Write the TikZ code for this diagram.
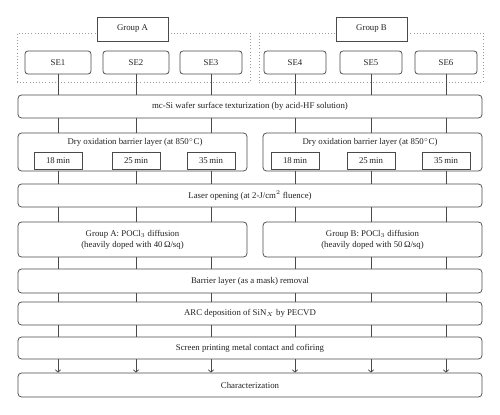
\documentclass[tikz,border=0pt]{standalone}
\usepackage{fontspec}
\setmainfont{Liberation Serif}
\usetikzlibrary{arrows.meta}
\definecolor{linec}{HTML}{4A4A4A}
\definecolor{textc}{HTML}{222222}
\definecolor{dotc}{HTML}{9A9A9A}
\newcommand\fsz{\fontsize{7.5}{9.5}\selectfont}
\begin{document}
\begin{tikzpicture}[x=0.03cm,y=-0.03cm,
  sz/.style 2 args={minimum width=#1*0.03cm, minimum height=#2*0.03cm},
  ln/.style={draw=linec, line width=0.65pt},
  mainbox/.style={ln, rounded corners=3pt, fill=white, text=textc, font=\fsz, inner sep=0pt, align=center},
  sqbox/.style={ln, fill=white, text=textc, font=\fsz, inner sep=0pt},
  txt/.style={text=textc, font=\fsz, inner sep=0pt},
  grpbox/.style={draw=dotc, dotted, line width=0.7pt},
  conn/.style={ln},
  arr/.style={ln, -{Straight Barb[length=2pt,width=4.5pt]}}]
\useasboundingbox (0,0) rectangle (500,414);
% dotted group frames
\node[grpbox, sz={233}{49}] (fA) at (133.5,57.5) {};
\node[grpbox, sz={224}{49}] (fB) at (371,57.5) {};
% group labels
\node[sqbox, sz={71}{24}] (gA) at (132.5,29) {Group A};
\node[sqbox, sz={71}{24}] (gB) at (371.5,29) {Group B};
% SE boxes
\node[mainbox, rounded corners=2.5pt, sz={66}{23}] (se1) at (58,62.5) {SE1};
\node[mainbox, rounded corners=2.5pt, sz={66}{23}] (se2) at (136,62.5) {SE2};
\node[mainbox, rounded corners=2.5pt, sz={62}{23}] (se3) at (211,62.5) {SE3};
\node[mainbox, rounded corners=2.5pt, sz={62}{23}] (se4) at (295,62.5) {SE4};
\node[mainbox, rounded corners=2.5pt, sz={62}{23}] (se5) at (371,62.5) {SE5};
\node[mainbox, rounded corners=2.5pt, sz={62}{23}] (se6) at (446,62.5) {SE6};
% process steps
\node[mainbox, sz={464}{23}] (tex) at (250,106.5) {mc-Si wafer surface texturization (by acid-HF solution)};
\node[mainbox, sz={229}{38}] (dA) at (132.5,152) {};
\node[mainbox, sz={219}{38}] (dB) at (372.5,152) {};
\node[txt] (dAt) at (135,142.5) {Dry oxidation barrier layer (at 850$^{\circ}$C)};
\node[txt] (dBt) at (370,142.5) {Dry oxidation barrier layer (at 850$^{\circ}$C)};
\node[sqbox, sz={48}{17}] (m1) at (58,160.5) {18\,min};
\node[sqbox, sz={48}{17}] (m2) at (136,160.5) {25\,min};
\node[sqbox, sz={48}{17}] (m3) at (211,160.5) {35\,min};
\node[sqbox, sz={48}{17}] (m4) at (295,160.5) {18\,min};
\node[sqbox, sz={48}{17}] (m5) at (371,160.5) {25\,min};
\node[sqbox, sz={48}{17}] (m6) at (446,160.5) {35\,min};
\node[mainbox, sz={464}{23}] (laser) at (250,195.5) {Laser opening (at 2-J/cm$^{2}$ fluence)};
\node[mainbox, sz={229}{35}] (pA) at (132.5,239.5) {Group A: POCl$_{3}$ diffusion\\(heavily doped with 40\,Ω/sq)};
\node[mainbox, sz={219}{35}] (pB) at (372.5,239.5) {Group B: POCl$_{3}$ diffusion\\(heavily doped with 50\,Ω/sq)};
\node[mainbox, sz={464}{24}] (bar) at (250,281) {Barrier layer (as a mask) removal};
\node[mainbox, sz={464}{23}] (arc) at (250,313.5) {ARC deposition of SiN$_{X}$ by PECVD};
\node[mainbox, sz={464}{22}] (scr) at (250,348) {Screen printing metal contact and cofiring};
\node[mainbox, sz={464}{24}] (char) at (250,385) {Characterization};
% connectors
\foreach \s/\d/\p in {se1/dA/pA, se2/dA/pA, se3/dA/pA, se4/dB/pB, se5/dB/pB, se6/dB/pB} {
  \draw[conn] (\s.south) -- (tex.north -| \s.south);
  \draw[conn] (tex.south -| \s.south) -- (\d.north -| \s.south);
  \draw[conn] (\d.south -| \s.south) -- (laser.north -| \s.south);
  \draw[conn] (laser.south -| \s.south) -- (\p.north -| \s.south);
  \draw[conn] (\p.south -| \s.south) -- (bar.north -| \s.south);
  \draw[conn] (bar.south -| \s.south) -- (arc.north -| \s.south);
  \draw[conn] (arc.south -| \s.south) -- (scr.north -| \s.south);
  \draw[arr] (scr.south -| \s.south) -- (char.north -| \s.south);
}
\end{tikzpicture}
\end{document}
